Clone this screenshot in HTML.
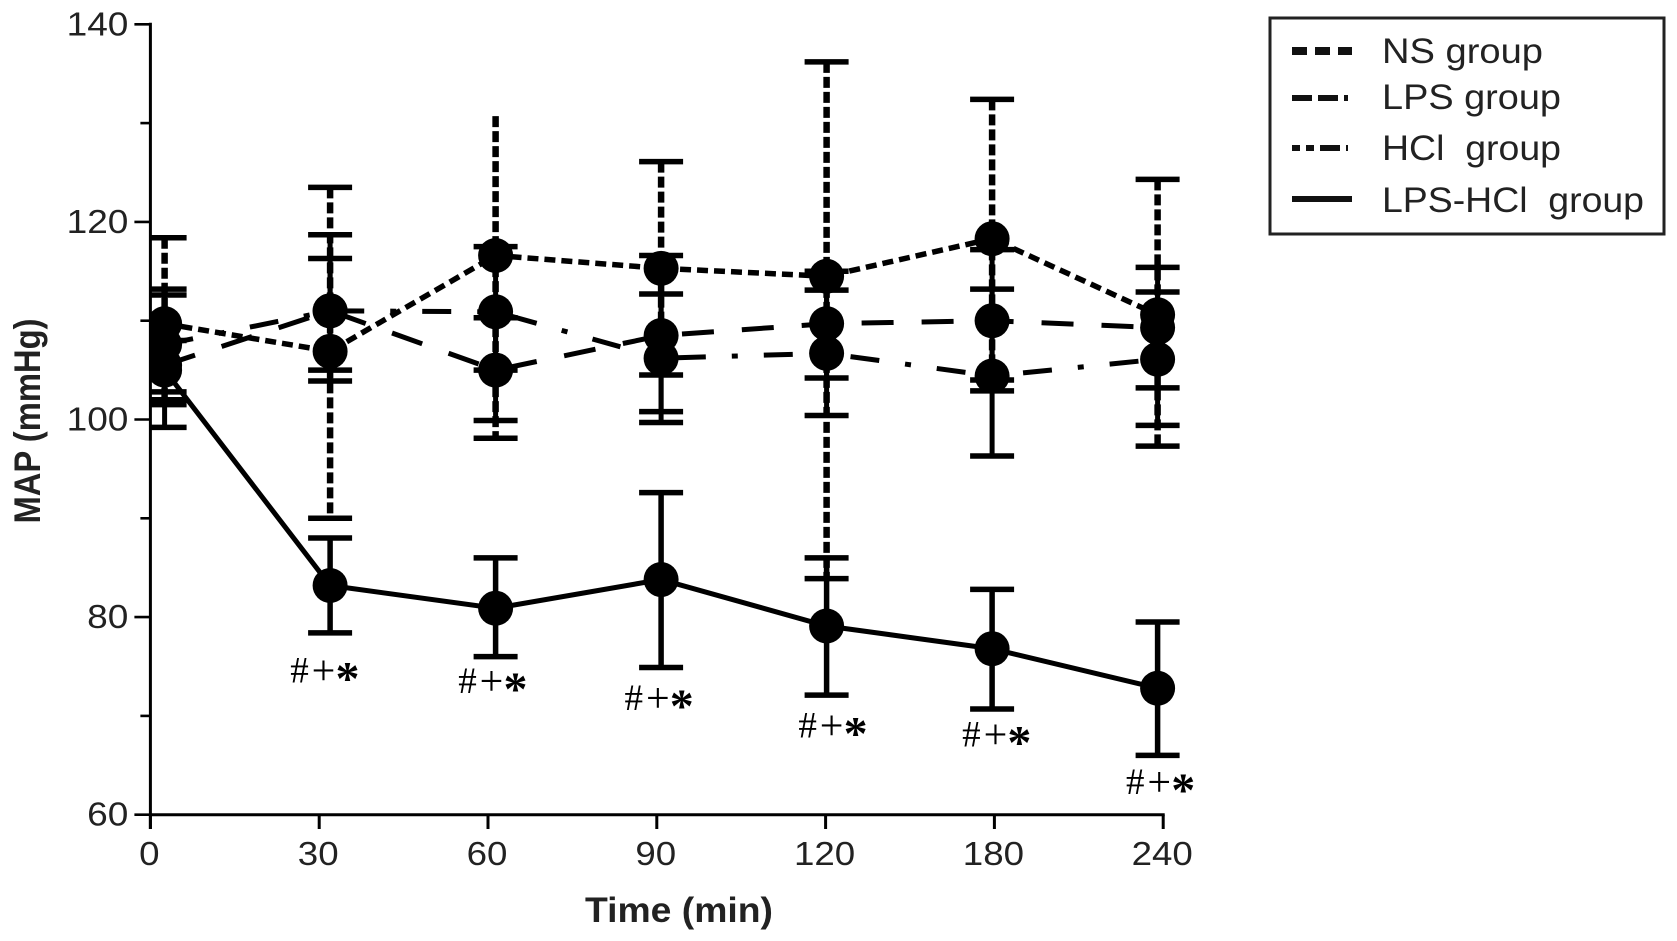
<!DOCTYPE html>
<html lang="en">
<head>
<meta charset="utf-8">
<title>MAP over time</title>
<style>
html,body{margin:0;padding:0;background:#fff;}
svg{display:block;}
text{font-family:"Liberation Sans",sans-serif;fill:#222;}
</style>
</head>
<body>
<svg id="chart" xmlns="http://www.w3.org/2000/svg" width="1677" height="941" viewBox="0 0 1677 941">
  <defs>
    <clipPath id="plot-clip"><rect x="150" y="0" width="1100" height="941"/></clipPath>
  </defs>
  <rect x="0" y="0" width="1677" height="941" fill="#fff"/>
  <g id="series" clip-path="url(#plot-clip)"></g>
  <g id="axes"></g>
  <g id="notes"></g>
  <text x="0" y="0" transform="translate(40,421) rotate(-90)" text-anchor="middle" font-size="37" font-weight="bold" textLength="205" lengthAdjust="spacingAndGlyphs">MAP (mmHg)</text>
  <text x="679" y="922" text-anchor="middle" font-size="35" font-weight="bold" textLength="188" lengthAdjust="spacingAndGlyphs">Time (min)</text>
  <g>
    <rect x="1270" y="18" width="394" height="216" fill="#fff" stroke="#222" stroke-width="3"/>
    <line x1="1292" y1="51" x2="1352" y2="51" stroke="#111" stroke-width="8" stroke-dasharray="15 8"/>
    <text x="1382" y="63" font-size="35" textLength="161" lengthAdjust="spacingAndGlyphs">NS group</text>
    <line x1="1292" y1="98" x2="1352" y2="98" stroke="#111" stroke-width="6" stroke-dasharray="20 6 20 6 4 9"/>
    <text x="1382" y="109" font-size="35" textLength="179" lengthAdjust="spacingAndGlyphs">LPS group</text>
    <line x1="1292" y1="148" x2="1352" y2="148" stroke="#111" stroke-width="6" stroke-dasharray="8 6 8 6 20 6 2 6"/>
    <text x="1382" y="160" font-size="35" textLength="179" lengthAdjust="spacingAndGlyphs">HCl&#160; group</text>
    <line x1="1292" y1="199" x2="1352" y2="199" stroke="#111" stroke-width="6"/>
    <text x="1382" y="212" font-size="35" textLength="262" lengthAdjust="spacingAndGlyphs">LPS-HCl&#160; group</text>
  </g>
</svg>
<script>
var categories = ["0", "30", "60", "90", "120", "180", "240"];
var yTickLabels = [60, 80, 100, 120, 140];
var yMinorTicks = [70, 90, 110, 130];

var nsMean = [109.7, 106.9, 116.6, 115.3, 114.5, 118.3, 110.6];
var nsUpper = [118.4, 123.5, 130.7, 126.1, 136.2, 132.4, 124.3];
var nsLower = [101.5, 90.0, 98.1, 104.5, 83.9, 104.0, 97.3];
var nsUpperCap = [1, 1, 0, 1, 1, 1, 1];

var lpsMean = [105.5, 111.0, 105.0, 108.5, 109.7, 110.0, 109.3];
var lpsUpper = [112.6, 116.3, 110.3, 116.6, 115.0, 117.2, 115.4];
var lpsLower = [99.2, 105.0, 99.9, 100.8, 104.2, 102.9, 103.2];

var hclMean = [107.6, 111.0, 110.9, 106.2, 106.7, 104.4, 106.1];
var hclUpper = [113.2, 118.7, 117.5, 112.7, 113.1, 113.2, 112.9];
var hclLower = [102.8, 103.9, 105.0, 99.7, 100.4, 96.3, 99.4];

var lpsHclMean = [105.0, 83.2, 80.9, 83.8, 79.1, 76.8, 72.8];
var lpsHclUpper = [108.0, 88.0, 86.0, 92.6, 86.0, 82.8, 79.5];
var lpsHclLower = [102.0, 78.4, 76.0, 74.9, 72.1, 70.7, 66.0];

var annotationText = ["#", "+", "*"];
var annotationCategory = [0.96, 1.975, 2.98, 4.03, 5.02, 6.01];
var annotationLevel = [73.4, 72.3, 70.6, 67.8, 66.9, 62.1];

var SVG_NS = "http://www.w3.org/2000/svg";
var axesLayer = document.getElementById("axes");
var seriesLayer = document.getElementById("series");
var notesLayer = document.getElementById("notes");

function yScale(v) { return 814.7 - (v - 60) * 9.88; }
function xTick(i) { return 150.4 + i * 168.8; }
function xMark(i) { return 164.6 + i * 165.5; }

function svgEl(tag, parent) {
  var el = document.createElementNS(SVG_NS, tag);
  parent.appendChild(el);
  return el;
}
function setLine(el, x1, y1, x2, y2, width, dash) {
  el.setAttribute("x1", x1);
  el.setAttribute("y1", y1);
  el.setAttribute("x2", x2);
  el.setAttribute("y2", y2);
  el.setAttribute("stroke", "#000");
  el.setAttribute("stroke-width", width);
  if (dash) { el.setAttribute("stroke-dasharray", dash); }
}

/* axes */
var yAxis = svgEl("line", axesLayer);


setLine(yAxis, xTick(0), yScale(140) - 1.5, xTick(0), 829, 3);

var xAxis = svgEl("line", axesLayer);


setLine(xAxis, xTick(0), yScale(60), xTick(categories.length - 1) + 1.5, yScale(60), 3);

yTickLabels.forEach(function (v) {
  var tick = svgEl("line", axesLayer);
  
  
  setLine(tick, xTick(0) - 16, yScale(v), xTick(0), yScale(v), 2.6);
  var label = svgEl("text", axesLayer);
  
  
  label.setAttribute("x", xTick(0) - 22);
  label.setAttribute("y", yScale(v) + 11);
  label.setAttribute("text-anchor", "end");
  label.setAttribute("font-size", "33");
  label.setAttribute("textLength", String(v).length * 20.6);
  label.setAttribute("lengthAdjust", "spacingAndGlyphs");
  label.textContent = v;
});
yMinorTicks.forEach(function (v) {
  var tick = svgEl("line", axesLayer);
  
  
  setLine(tick, xTick(0) - 10, yScale(v), xTick(0), yScale(v), 2.6);
});
categories.forEach(function (c, i) {
  var tick = svgEl("line", axesLayer);
  
  
  setLine(tick, xTick(i), yScale(60), xTick(i), 829, 3);
  var label = svgEl("text", axesLayer);
  
  
  label.setAttribute("x", xTick(i) - 1);
  label.setAttribute("y", 865);
  label.setAttribute("text-anchor", "middle");
  label.setAttribute("font-size", "33");
  label.setAttribute("textLength", c.length * 20.4);
  label.setAttribute("lengthAdjust", "spacingAndGlyphs");
  label.textContent = c;
});

/* series */
function drawLine(values, dash, width, name) {
  var d = values.map(function (v, i) {
    return (i ? "L" : "M") + xMark(i) + " " + yScale(v);
  }).join(" ");
  var path = svgEl("path", seriesLayer);
  
  
  path.setAttribute("d", d);
  path.setAttribute("fill", "none");
  path.setAttribute("stroke", "#000");
  path.setAttribute("stroke-width", width);
  if (dash) { path.setAttribute("stroke-dasharray", dash); }
}
function drawBars(upper, lower, dash, upperCap, stemWidth) {
  upper.forEach(function (u, i) {
    var x = xMark(i);
    var stem = svgEl("line", seriesLayer);
    
    
    setLine(stem, x, yScale(u), x, yScale(lower[i]), stemWidth, dash);
    if (!upperCap || upperCap[i]) {
      var top = svgEl("line", seriesLayer);
      
      
      setLine(top, x - 22, yScale(u), x + 22, yScale(u), 5.5);
    }
    var bottom = svgEl("line", seriesLayer);
    
    
    setLine(bottom, x - 22, yScale(lower[i]), x + 22, yScale(lower[i]), 5.5);
  });
}
function drawPoints(values, name) {
  values.forEach(function (v, i) {
    var dot = svgEl("circle", seriesLayer);
    
    
    dot.setAttribute("cx", xMark(i));
    dot.setAttribute("cy", yScale(v));
    dot.setAttribute("r", 17.5);
    dot.setAttribute("fill", "#000");
  });
}

drawBars(nsUpper, nsLower, "11 4", nsUpperCap, 6.5);
drawBars(lpsUpper, lpsLower, null, null, 5);
drawBars(hclUpper, hclLower, null, null, 5);
drawBars(lpsHclUpper, lpsHclLower, null, null, 5.5);

drawLine(nsMean, "11 6", 5.5, "ns-group-line");
drawLine(lpsMean, "32 28", 5, "lps-group-line");
drawLine(hclMean, "29 26 6 26", 5, "hcl-group-line");
drawLine(lpsHclMean, null, 5, "lps-hcl-group-line");

drawPoints(nsMean, "ns-group-point");
drawPoints(lpsMean, "lps-group-point");
drawPoints(hclMean, "hcl-group-point");
drawPoints(lpsHclMean, "lps-hcl-group-point");

/* annotations */
annotationCategory.forEach(function (c, i) {
  var cx = xMark(c);
  var base = yScale(annotationLevel[i]);
  var g = svgEl("g", notesLayer);
  
  
  annotationText.forEach(function (glyph, k) {
    var t = svgEl("text", g);
    
    
    var isStar = glyph === "*";
    var isPlus = glyph === "+";
    t.setAttribute("x", cx + (k - 1) * 24);
    t.setAttribute("y", isStar ? base + 12 : (isPlus ? base + 2 : base));
    t.setAttribute("text-anchor", "middle");
    t.setAttribute("font-size", isStar ? "48" : (isPlus ? "42" : "37"));
    t.setAttribute("font-weight", isStar ? "bold" : "normal");
    t.setAttribute("style", "font-family:'Liberation Serif',serif;fill:#000");
    t.textContent = glyph;
  });
});
</script>
</body>
</html>
